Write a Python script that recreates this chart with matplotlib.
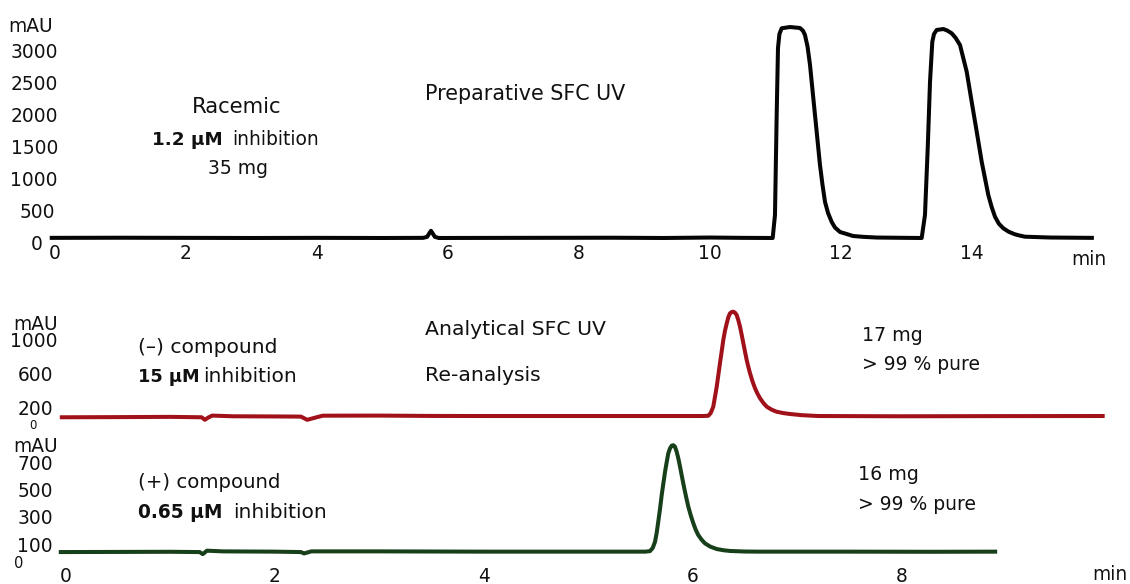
import matplotlib
matplotlib.use('Agg')
import matplotlib.pyplot as plt
from matplotlib.transforms import blended_transform_factory

# preparative run (min, mAU)
prep_time = [-0.05, 1.0, 2.0, 3.0, 4.0, 5.0, 5.62, 5.68, 5.74, 5.80, 5.86, 7.0, 8.5, 9.3, 10.0, 10.5,
             10.957, 10.992, 11.018, 11.038, 11.06, 11.094, 11.22, 11.374, 11.42, 11.45, 11.49, 11.527,
             11.577, 11.629, 11.679, 11.718, 11.756, 11.802, 11.858, 11.908, 11.985, 12.061, 12.183,
             12.35, 12.545, 13.0, 13.232,
             13.282, 13.324, 13.359, 13.394, 13.42, 13.461, 13.562, 13.62, 13.69, 13.75, 13.817,
             13.919, 13.995, 14.072, 14.148, 14.249, 14.30, 14.351, 14.41, 14.478, 14.56, 14.656,
             14.73, 14.809, 15.2, 15.83]
prep_signal = [80, 82, 80, 78, 80, 78, 80, 95, 190, 95, 78, 80, 82, 78, 85, 80,
               78, 435, 1991, 3033, 3250, 3339, 3359, 3344, 3300, 3235, 3050, 2768,
               2255, 1726, 1213, 902, 638, 467, 327, 241, 171, 148, 109,
               95, 85, 80, 78,
               435, 1477, 2509, 3131, 3250, 3313, 3328, 3305, 3261, 3190, 3079,
               2664, 2197, 1731, 1264, 746, 560, 409, 300, 229, 175, 135,
               115, 98, 85, 80]

# analytical re-analysis, (-) compound
minus_time = [-0.04, 0.5, 1.0, 1.30, 1.33, 1.36, 1.40, 1.6, 2.0, 2.25, 2.31, 2.40, 2.46, 3.0, 3.5, 4.0,
              5.0, 6.0, 6.10, 6.152, 6.175, 6.2, 6.233, 6.264, 6.28, 6.296, 6.312, 6.329, 6.344, 6.36,
              6.376, 6.392, 6.408, 6.424, 6.44, 6.456, 6.472, 6.488, 6.504, 6.52, 6.536, 6.552, 6.575,
              6.6, 6.624, 6.648, 6.68, 6.712, 6.76, 6.807, 6.87, 6.935, 7.05, 7.206, 8.0, 9.0, 9.93]
minus_signal = [80, 82, 85, 80, 50, 75, 100, 92, 90, 88, 50, 80, 99, 100, 96, 95,
                95, 95, 95, 98, 130, 206, 444, 723, 860, 1000, 1110, 1199, 1270, 1318,
                1332, 1337, 1325, 1298, 1235, 1158, 1062, 961, 860, 762, 680, 604, 510,
                425, 360, 306, 250, 206, 170, 146, 130, 119, 105, 95, 92, 94, 95]

# analytical re-analysis, (+) compound
plus_time = [-0.05, 1.0, 1.28, 1.31, 1.35, 1.5, 2.0, 2.25, 2.28, 2.35, 3.0, 4.0, 5.0, 5.55, 5.594, 5.62,
             5.642, 5.658, 5.673, 5.69, 5.706, 5.722, 5.738, 5.754, 5.769, 5.786, 5.802, 5.818, 5.833,
             5.849, 5.865, 5.881, 5.897, 5.913, 5.929, 5.945, 5.961, 5.985, 6.009, 6.032, 6.056, 6.088,
             6.121, 6.17, 6.233, 6.30, 6.36, 6.5, 6.631, 7.5, 8.3, 8.9]
plus_signal = [45, 47, 45, 30, 55, 50, 48, 45, 35, 50, 50, 48, 48, 48, 52, 75,
               120, 185, 266, 360, 460, 545, 629, 700, 763, 800, 819, 822, 811,
               775, 727, 668, 605, 543, 484, 428, 375, 310, 254, 207, 169, 135,
               108, 85, 67, 58, 53, 49, 48, 48, 47, 48]

prep_yticks = [3000, 2500, 2000, 1500, 1000, 500, 0]
prep_xticks = [0, 2, 4, 6, 8, 10, 12, 14]
minus_yticks = [1000, 600, 200, 0]
plus_yticks = [700, 500, 300, 100]
anal_xticks = [0, 2, 4, 6, 8]

W, H = 1130, 584


def fx(px):
    return px / W


def fy(py):
    return 1 - py / H


plt.rcParams['font.family'] = 'DejaVu Sans'
txt = '#111111'

fig = plt.figure(figsize=(W / 100, H / 100), dpi=100)


def make_axes(top_px, bottom_px, x0_px, x_scale, y0_px, y_scale, y_ref=0.0):
    # pixel box -> data limits so the traces land where the scales put them
    ax = fig.add_axes([fx(40), fy(bottom_px), (1120 - 40) / W, (bottom_px - top_px) / H])
    ax.set_xlim((40 - x0_px) / x_scale, (1120 - x0_px) / x_scale)
    ax.set_ylim(y_ref + (y0_px - bottom_px) / y_scale, y_ref + (y0_px - top_px) / y_scale)
    ax.axis('off')
    return ax


ax1 = make_axes(15, 250, 55, 65.5, 243, 0.0643)
ax2 = make_axes(300, 430, 66, 104.4, 424, 0.084)
ax3 = make_axes(435, 565, 66, 104.4, 462, 0.1375, y_ref=700)

ax1.plot(prep_time, prep_signal, color='#050505', lw=2.9, solid_joinstyle='round', clip_on=False)
ax2.plot(minus_time, minus_signal, color='#a0111a', lw=2.9, solid_joinstyle='round', clip_on=False)
ax3.plot(plus_time, plus_signal, color='#173f19', lw=2.9, solid_joinstyle='round', clip_on=False)

# y labels: x fixed in the figure, y from the data scale
for ax, ticks, rights, sizes in [
    (ax1, prep_yticks, [58, 58, 58, 58, 58, 55, 43], [13.4] * 7),
    (ax2, minus_yticks, [58, 53, 53, 37], [13.4, 13.4, 13.4, 8.5]),
    (ax3, plus_yticks, [53, 53, 53, 53], [13.4] * 4),
]:
    tr = blended_transform_factory(fig.transFigure, ax.transData)
    for v, r, s in zip(ticks, rights, sizes):
        ax.text(fx(r), v, str(v), transform=tr, ha='right', va='center_baseline',
                fontsize=s, color=txt)
# lowest label of the bottom trace sits just under the "100"
fig.text(fx(19), fy(562), '0', ha='center', va='center_baseline', fontsize=10.5, color=txt)

fig.text(fx(8), fy(24), 'mAU', ha='left', va='center_baseline', fontsize=13.4, color=txt)
fig.text(fx(13), fy(322), 'mAU', ha='left', va='center_baseline', fontsize=13.4, color=txt)
fig.text(fx(13), fy(445), 'mAU', ha='left', va='center_baseline', fontsize=13.4, color=txt)

# x labels: x from the data scale, y fixed in the figure
tr1 = blended_transform_factory(ax1.transData, fig.transFigure)
for t in prep_xticks:
    ax1.text(t, fy(252), str(t), transform=tr1, ha='center', va='center_baseline',
             fontsize=13.4, color=txt)
tr3 = blended_transform_factory(ax3.transData, fig.transFigure)
for t in anal_xticks:
    ax3.text(t, fy(574), str(t), transform=tr3, ha='center', va='center_baseline',
             fontsize=13.4, color=txt)
fig.text(fx(1089), fy(265), 'min', ha='center', va='baseline', fontsize=13.4, color=txt)
fig.text(fx(1110), fy(580), 'min', ha='center', va='baseline', fontsize=13.4, color=txt)

# annotations
fig.text(fx(237), fy(113), 'Racemic', ha='center', va='baseline', fontsize=15.2, color=txt)
fig.text(fx(152), fy(145), '1.2 µM', ha='left', va='baseline', fontsize=13.2,
         fontweight='bold', color=txt)
fig.text(fx(232), fy(145), 'inhibition', ha='left', va='baseline', fontsize=13.5, color=txt)
fig.text(fx(238), fy(174), '35 mg', ha='center', va='baseline', fontsize=13.5, color=txt)
fig.text(fx(425), fy(100), 'Preparative SFC UV', ha='left', va='baseline', fontsize=14.9, color=txt)

fig.text(fx(138), fy(353), '(–) compound', ha='left', va='baseline', fontsize=14.6, color=txt)
fig.text(fx(138), fy(382), '15 µM', ha='left', va='baseline', fontsize=12.8,
         fontweight='bold', color=txt)
fig.text(fx(203), fy(382), 'inhibition', ha='left', va='baseline', fontsize=14.5, color=txt)
fig.text(fx(425), fy(335), 'Analytical SFC UV', ha='left', va='baseline', fontsize=14.7, color=txt)
fig.text(fx(425), fy(381), 'Re-analysis', ha='left', va='baseline', fontsize=14.7, color=txt)
fig.text(fx(862), fy(341), '17 mg', ha='left', va='baseline', fontsize=13.7, color=txt)
fig.text(fx(862), fy(370), '> 99 % pure', ha='left', va='baseline', fontsize=13.5, color=txt)

fig.text(fx(138), fy(488), '(+) compound', ha='left', va='baseline', fontsize=14.2, color=txt)
fig.text(fx(138), fy(518), '0.65 µM', ha='left', va='baseline', fontsize=13.4,
         fontweight='bold', color=txt)
fig.text(fx(233), fy(518), 'inhibition', ha='left', va='baseline', fontsize=14.5, color=txt)
fig.text(fx(858), fy(480), '16 mg', ha='left', va='baseline', fontsize=13.7, color=txt)
fig.text(fx(858), fy(510), '> 99 % pure', ha='left', va='baseline', fontsize=13.5, color=txt)

fig.savefig('out.png', dpi=100)
